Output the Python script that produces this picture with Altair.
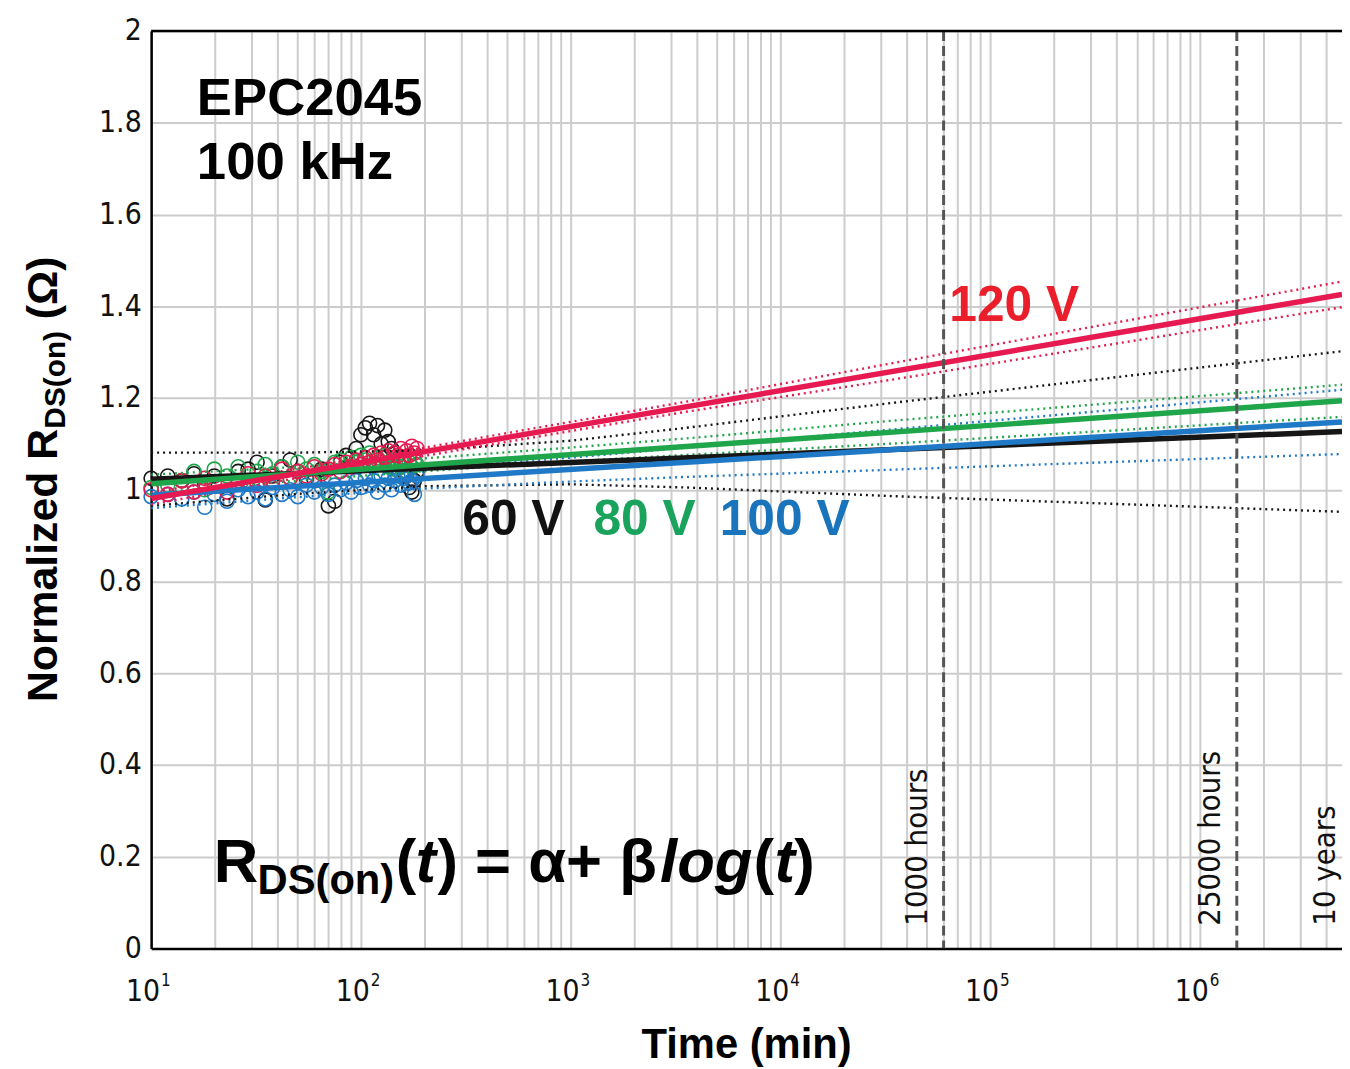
import altair as alt
import pandas as pd

# ---------------- data ----------------
series_names = ["60 V", "80 V", "100 V", "120 V"]
line_colors = ["#161616", "#1fa64b", "#2079c6", "#e61a50"]
text_colors = ["#111111", "#1aa35d", "#1a74bb", "#ea1f2b"]

times = [10, 12, 14, 16, 18, 20, 23, 26, 29, 32, 35, 38, 42, 46, 50, 55, 60, 65, 70, 75, 80,
         85, 90, 95, 100, 105, 110, 115, 120, 125, 130, 135, 140, 145, 150, 155, 160, 165,
         170, 175, 180, 185]
v60 = [1.025, 1.030, 1.020, 1.035, 1.015, 1.030, 0.980, 1.040, 1.045, 1.060, 0.978, 1.030,
       1.050, 1.065, 1.040, 1.025, 1.020, 1.045, 0.965, 0.975, 1.060, 1.075, 1.070, 1.090,
       1.120, 1.135, 1.145, 1.120, 1.140, 1.100, 1.130, 1.105, 1.090, 1.080, 1.060, 1.050,
       1.040, 1.030, 1.005, 0.995, 1.020, 1.040]
v80 = [1.005, 1.010, 1.020, 1.040, 1.000, 1.045, 1.030, 1.050, 1.020, 1.040, 1.055, 1.035,
       1.050, 1.025, 1.060, 1.045, 1.055, 1.040, 0.995, 1.060, 1.065, 1.050, 1.070, 1.060,
       1.075, 1.065, 1.080, 1.055, 1.070, 1.060, 1.075, 1.050, 1.065, 1.045, 1.060, 1.050,
       1.070, 1.040, 1.060, 1.050, 1.065, 1.055]
v100 = [0.985, 0.990, 0.980, 0.995, 0.962, 0.990, 0.975, 1.000, 0.985, 0.995, 0.980, 1.005,
        0.990, 1.000, 0.985, 1.010, 0.995, 1.005, 0.990, 1.010, 1.000, 1.015, 0.995, 1.020,
        1.005, 1.025, 1.010, 1.020, 0.995, 1.030, 1.010, 1.025, 1.000, 1.020, 1.030, 1.010,
        1.025, 1.035, 1.015, 1.020, 0.990, 1.030]
v120 = [1.000, 0.990, 1.020, 0.995, 1.025, 1.015, 0.995, 1.020, 1.035, 1.010, 1.030, 1.020,
        1.045, 1.025, 1.040, 1.030, 1.050, 1.035, 1.045, 1.055, 1.040, 1.060, 1.050, 1.065,
        1.055, 1.070, 1.060, 1.075, 1.065, 1.080, 1.070, 1.085, 1.060, 1.080, 1.075, 1.090,
        1.070, 1.085, 1.075, 1.095, 1.080, 1.090]

# fitted lines  R(t) = a + b log(t)
fit_t = [10, 4760000]
fit60 = [1.023, 1.127]
fit80 = [1.013, 1.194]
fit100 = [0.988, 1.148]
fit120 = [0.981, 1.426]

# dotted bounds
band_t = [10, 50, 208, 1000, 3548, 35100, 4760000]
up60 = [1.081, 1.081, 1.086, 1.107, 1.135, 1.190, 1.302]
lo60 = [0.965, 0.991, 1.008, 1.012, 1.005, 0.986, 0.952]
up80 = [1.033, 1.050, 1.069, 1.092, 1.112, 1.151, 1.229]
lo80 = [0.993, 1.020, 1.041, 1.062, 1.076, 1.101, 1.159]
up100 = [1.016, 1.032, 1.047, 1.070, 1.092, 1.132, 1.218]
lo100 = [0.960, 0.984, 1.003, 1.018, 1.028, 1.044, 1.078]
up120 = [0.994, 1.046, 1.093, 1.148, 1.192, 1.277, 1.454]
lo120 = [0.968, 1.026, 1.075, 1.128, 1.170, 1.241, 1.398]

marker_t = [60000, 1500000]
marker_label = ["1000 hours", "25000 hours"]
years_t = [5256000]
years_label = ["10 years"]

decades = [10, 100, 1000, 10000, 100000, 1000000]
decade_base = ["10", "10", "10", "10", "10", "10"]
decade_exp = ["1", "2", "3", "4", "5", "6"]
y_ticks = [0, 0.2, 0.4, 0.6, 0.8, 1, 1.2, 1.4, 1.6, 1.8, 2]
grid_ticks = [m * 10 ** k for k in range(1, 7) for m in range(1, 10) if m * 10 ** k <= 4760000]

# ---------------- frames ----------------
vals = [v60, v80, v100, v120]
pts = pd.concat([pd.DataFrame({"series": s, "t": times, "v": v}) for s, v in zip(series_names, vals)],
                ignore_index=True)
pts["ord"] = range(len(pts))

fits = [fit60, fit80, fit100, fit120]
ups = [up60, up80, up100, up120]
los = [lo60, lo80, lo100, lo120]

SANS = "Liberation Sans, Arial, Helvetica, sans-serif"
NARROW = "Liberation Sans Narrow, Arial Narrow, DejaVu Sans Condensed, sans-serif"

W, H = 1198, 923
OX, OY = 152, 28

xscale = alt.Scale(type="log", domain=[10, 4760000], nice=False)
yscale = alt.Scale(domain=[0, 2], nice=False, zero=False)

x_axis = alt.Axis(values=grid_ticks, labels=False, ticks=False, grid=True, gridColor="#cccccc",
                  gridWidth=2, domain=True, domainColor="#000000", domainWidth=2.5, title=None)
y_axis = alt.Axis(values=y_ticks, format="~g", labelFont=NARROW, labelFontSize=30, labelColor="#111111",
                  labelPadding=10, ticks=False, grid=True, gridColor="#cccccc", gridWidth=2,
                  domain=True, domainColor="#000000", domainWidth=2.5, title=None)

color = alt.Color("series:N", scale=alt.Scale(domain=series_names, range=line_colors), legend=None)


def X():
    return alt.X("t:Q", scale=xscale, axis=x_axis)


def Y():
    return alt.Y("v:Q", scale=yscale, axis=y_axis)


layers = []

# scatter points
layers.append(
    alt.Chart(pts).mark_point(shape="circle", filled=False, size=200, strokeWidth=1.6, opacity=1)
    .encode(x=X(), y=Y(), color=color, order="ord:Q")
)

# dotted bounds
for s, c, u, l in zip(series_names, line_colors, ups, los):
    for nm, arr in (("up", u), ("lo", l)):
        df = pd.DataFrame({"t": band_t, "v": arr})
        layers.append(
            alt.Chart(df).mark_line(color=c, strokeDash=[2, 4], strokeWidth=2.4, clip=True)
            .encode(x=X(), y=Y())
        )

# fit lines
for s, c, f in zip(series_names, line_colors, fits):
    df = pd.DataFrame({"t": fit_t, "v": f})
    layers.append(
        alt.Chart(df).mark_line(color=c, strokeWidth=5.5, clip=True).encode(x=X(), y=Y())
    )

# vertical dashed markers
mk = pd.DataFrame({"t": marker_t + years_t, "label": marker_label + years_label})
layers.append(
    alt.Chart(mk).mark_rule(color="#555555", strokeDash=[10, 5], strokeWidth=3, clip=True)
    .encode(x=X())
)
layers.append(
    alt.Chart(pd.DataFrame({"t": marker_t, "label": marker_label}))
    .mark_text(angle=270, align="left", baseline="alphabetic", font=NARROW, fontSize=31, dy=-17,
               color="#111111")
    .encode(x=X(), y=alt.value(928 - OY), text="label:N")
)
layers.append(
    alt.Chart(pd.DataFrame({"t": years_t, "label": years_label}))
    .mark_text(angle=270, align="left", baseline="alphabetic", font=NARROW, fontSize=31, dy=-16,
               color="#111111")
    .encode(x=X(), y=alt.value(928 - OY), text="label:N")
)

# x tick labels 10^k
dec = pd.DataFrame({"t": decades, "base": decade_base, "exp": decade_exp})
layers.append(
    alt.Chart(dec).mark_text(align="right", baseline="alphabetic", font=NARROW, fontSize=30, dx=9,
                             color="#111111")
    .encode(x=X(), y=alt.value(1004 - OY), text="base:N")
)
layers.append(
    alt.Chart(dec).mark_text(align="left", baseline="alphabetic", font=NARROW, fontSize=17, dx=10,
                             color="#111111")
    .encode(x=X(), y=alt.value(989 - OY), text="exp:N")
)

one = pd.DataFrame({"k": [0]})

# top frame line
layers.append(
    alt.Chart(one).mark_rule(color="#000000", strokeWidth=2.5)
    .encode(x=alt.value(0), x2=alt.value(W), y=alt.value(0))
)


def txt(s, x, y, size, color="#000000", style="normal", angle=0, font=SANS, align="left"):
    return alt.Chart(one).mark_text(text=s, fontSize=size, font=font, fontWeight="bold",
                                    fontStyle=style, color=color, angle=angle, align=align,
                                    baseline="alphabetic").encode(
        x=alt.value(x - OX), y=alt.value(y - OY))


# annotations
layers += [
    txt("EPC2045", 198, 112, 53),
    txt("100 kHz", 198, 177, 53),
    txt("120 V", 955, 320, 50, text_colors[3]),
    txt("60 V", 465, 535, 50, text_colors[0]),
    txt("80 V", 597, 535, 50, text_colors[1]),
    txt("100 V", 724, 535, 50, text_colors[2]),
    # equation
    txt("R", 215, 884, 62),
    txt("DS(on)", 259, 896, 42),
    txt("(", 398, 884, 62),
    txt("t", 418, 884, 62, style="italic"),
    txt(") = \u03b1+ \u03b2", 440, 884, 62),
    txt("log", 664, 884, 62, style="italic"),
    txt("(", 758, 884, 62),
    txt("t", 779, 884, 62, style="italic"),
    txt(")", 799, 884, 62),
    # axis titles
    txt("Time (min)", 751, 1061, 42, align="center"),
    txt("Normalized R", 57, 703, 43, angle=270),
    txt("DS(on)", 65, 428, 30, angle=270),
    txt("(\u03a9)", 57, 318, 43, angle=270),
]

chart = alt.layer(*layers).properties(
    width=W, height=H,
    autosize=alt.AutoSizeParams(type="none"),
    padding={"left": 144, "top": 20, "right": 0, "bottom": 116},
    background="#ffffff",
).configure_view(stroke=None)

chart.save("out.html", embed_options={"renderer": "svg", "actions": False})
